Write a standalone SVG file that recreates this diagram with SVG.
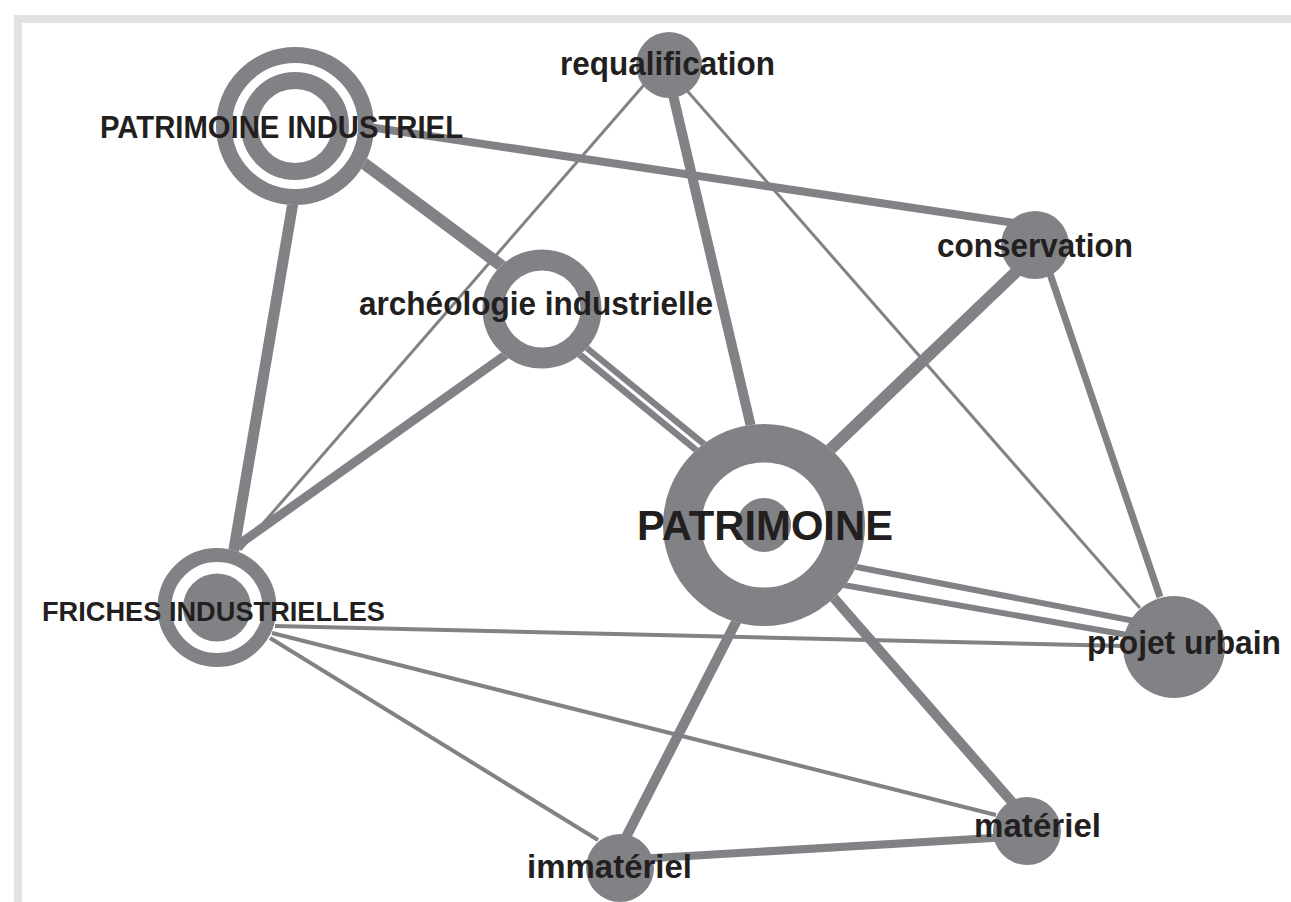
<svg xmlns="http://www.w3.org/2000/svg" width="1291" height="902" viewBox="0 0 1291 902">
<style>
.bg{fill:#ffffff}
.frame{fill:none;stroke:#e1e3e2;stroke-width:8}
.e{stroke:#808285;fill:none;stroke-linecap:butt}
.gap{stroke:#ffffff;fill:none;stroke-width:3}
.ring{fill:none;stroke:#808285}
.dot{fill:#808285}
.hole{fill:#ffffff}
.lbl{font-family:"Liberation Sans",Arial,sans-serif;font-weight:bold;fill:#231f20}
</style>
<rect class="bg" x="0" y="0" width="1291" height="902"/>
<rect class="frame" x="18" y="19" width="1400" height="1000"/>
<g id="connectors">
  <line class="e" stroke-width="11" x1="306" y1="126" x2="233" y2="555"/>
  <line class="e" stroke-width="12" x1="295" y1="112" x2="542" y2="296"/>
  <line class="e" stroke-width="8" x1="295" y1="116" x2="1035" y2="226"/>
  <line class="e" stroke-width="10" x1="666" y1="65" x2="774" y2="525"/>
  <line class="e" stroke-width="3" x1="650" y1="78" x2="240" y2="550"/>
  <line class="e" stroke-width="3" x1="669" y1="70" x2="1140" y2="608"/>
  <line class="e" stroke-width="9" x1="542" y1="329" x2="238" y2="545"/>
  <line class="e" stroke-width="16" x1="552" y1="326" x2="760" y2="496"/>
  <line class="gap" x1="560" y1="332" x2="745" y2="484"/>
  <line class="e" stroke-width="12" x1="1040" y1="249" x2="770" y2="507"/>
  <line class="e" stroke-width="7" x1="1047" y1="265" x2="1160" y2="597"/>
  <line class="e" stroke-width="6" x1="764" y1="549" x2="1150" y2="624"/>
  <line class="e" stroke-width="6" x1="764" y1="571" x2="1150" y2="639"/>
  <line class="e" stroke-width="10" x1="737" y1="620" x2="622" y2="845"/>
  <line class="e" stroke-width="10" x1="833" y1="597" x2="1012" y2="802"/>
  <line class="e" stroke-width="4" x1="275" y1="626" x2="1125" y2="646"/>
  <line class="e" stroke-width="4" x1="272" y1="633" x2="996" y2="815"/>
  <line class="e" stroke-width="4" x1="270" y1="638" x2="598" y2="840"/>
  <line class="e" stroke-width="8" x1="620" y1="860" x2="1027" y2="836"/>
</g>
<g id="node-patrimoine-industriel">
  <circle class="hole" cx="295" cy="126" r="79"/>
  <circle class="ring" cx="295" cy="126" r="71" stroke-width="16"/>
  <circle class="ring" cx="295" cy="126" r="45.5" stroke-width="17"/>
  <text class="lbl" x="100" y="138" font-size="32" textLength="363" lengthAdjust="spacingAndGlyphs">PATRIMOINE INDUSTRIEL</text>
</g>
<g id="node-requalification">
  <circle class="dot" cx="669" cy="65" r="33"/>
  <text class="lbl" x="560" y="75" font-size="33" textLength="215" lengthAdjust="spacingAndGlyphs">requalification</text>
</g>
<g id="node-archeologie-industrielle">
  <circle class="hole" cx="542" cy="309" r="59.5"/>
  <circle class="ring" cx="542" cy="309" r="49" stroke-width="21"/>
  <text class="lbl" x="359" y="315" font-size="33" textLength="354" lengthAdjust="spacingAndGlyphs">archéologie industrielle</text>
</g>
<g id="node-conservation">
  <circle class="dot" cx="1035" cy="245" r="34"/>
  <text class="lbl" x="937" y="257" font-size="33" textLength="196" lengthAdjust="spacingAndGlyphs">conservation</text>
</g>
<g id="node-patrimoine">
  <circle class="hole" cx="764" cy="525" r="101"/>
  <circle class="ring" cx="764" cy="525" r="81.75" stroke-width="38.5"/>
  <circle class="dot" cx="764" cy="525" r="27"/>
  <text class="lbl" x="637" y="540" font-size="42" textLength="256" lengthAdjust="spacingAndGlyphs">PATRIMOINE</text>
</g>
<g id="node-friches-industrielles">
  <circle class="hole" cx="217" cy="607.5" r="59.5"/>
  <circle class="ring" cx="217" cy="607.5" r="52.5" stroke-width="14"/>
  <circle class="dot" cx="217" cy="607.5" r="34"/>
  <text class="lbl" x="42" y="621" font-size="27" textLength="343" lengthAdjust="spacingAndGlyphs">FRICHES INDUSTRIELLES</text>
</g>
<g id="node-projet-urbain">
  <circle class="dot" cx="1174" cy="647" r="51"/>
  <text class="lbl" x="1087" y="654" font-size="33" textLength="194" lengthAdjust="spacingAndGlyphs">projet urbain</text>
</g>
<g id="node-materiel">
  <circle class="dot" cx="1027" cy="831" r="34"/>
  <text class="lbl" x="974" y="837" font-size="33" textLength="127" lengthAdjust="spacingAndGlyphs">matériel</text>
</g>
<g id="node-immateriel">
  <circle class="dot" cx="620" cy="868" r="34"/>
  <text class="lbl" x="527" y="878" font-size="33" textLength="165" lengthAdjust="spacingAndGlyphs">immatériel</text>
</g>
</svg>
